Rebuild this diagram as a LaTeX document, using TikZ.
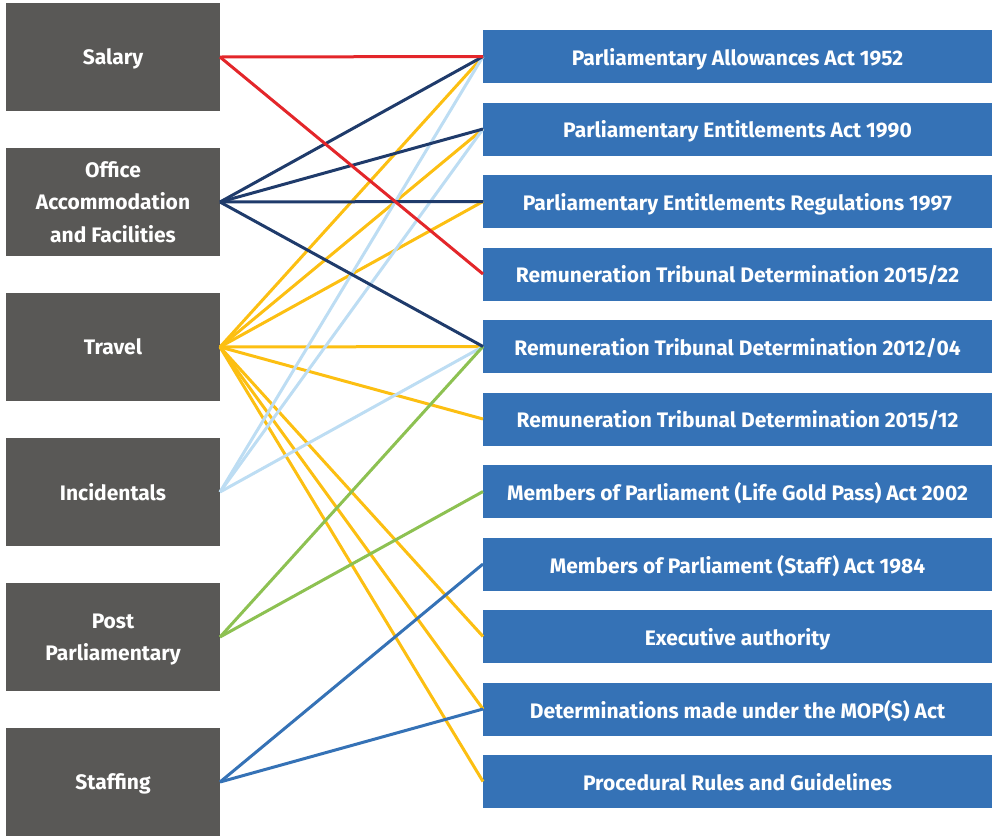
\documentclass[tikz,border=0pt]{standalone}
\usepackage{fontspec}
\setmainfont{Fira Sans}
\usetikzlibrary{positioning}

\definecolor{boxgray}{HTML}{595856}
\definecolor{boxblue}{HTML}{3572B6}
\definecolor{linered}{HTML}{E3262A}
\definecolor{linenavy}{HTML}{1F3B6B}
\definecolor{lineyellow}{HTML}{FCBF12}
\definecolor{linesky}{HTML}{BDDDF3}
\definecolor{linegreen}{HTML}{8DC152}

\begin{document}
\begin{tikzpicture}[x=1pt,y=-1pt,line width=3pt,
  topic/.style={rectangle,fill=boxgray,text=white,minimum width=214pt,minimum height=108pt,
    inner sep=0pt,outer sep=0pt,align=center,text depth=0pt,
    font=\fontsize{21}{32.5}\selectfont\bfseries},
  act/.style={rectangle,fill=boxblue,text=white,minimum width=509pt,minimum height=53pt,
    inner sep=0pt,outer sep=0pt,text depth=0pt,font=\fontsize{21}{23}\selectfont\bfseries}]

  \useasboundingbox (0,0) rectangle (992,836);

  \node[topic] (salary) at (113,57) {Salary};
  \node[topic] (office) [below=37pt of salary] {Office\\Accommodation\\and Facilities};
  \node[topic] (travel) [below=37pt of office] {Travel};
  \node[topic] (incid) [below=37pt of travel] {Incidentals};
  \node[topic] (post) [below=37pt of incid] {Post\\Parliamentary};
  \node[topic] (staff) [below=37pt of post] {Staffing};

  \node[act] (paa) at (737.5,56.5) {Parliamentary Allowances Act 1952};
  \node[act] (pea) [below=19.5pt of paa] {Parliamentary Entitlements Act 1990};
  \node[act] (per) [below=19.5pt of pea] {Parliamentary Entitlements Regulations 1997};
  \node[act] (rtd1522) [below=19.5pt of per] {Remuneration Tribunal Determination 2015/22};
  \node[act] (rtd1204) [below=19.5pt of rtd1522] {Remuneration Tribunal Determination 2012/04};
  \node[act] (rtd1512) [below=19.5pt of rtd1204] {Remuneration Tribunal Determination 2015/12};
  \node[act] (gold) [below=19.5pt of rtd1512] {Members of Parliament (Life Gold Pass) Act 2002};
  \node[act] (mops) [below=19.5pt of gold] {Members of Parliament (Staff) Act 1984};
  \node[act] (exec) [below=19.5pt of mops] {Executive authority};
  \node[act] (detm) [below=19.5pt of exec] {Determinations made under the MOP(S) Act};
  \node[act] (rules) [below=19.5pt of detm] {Procedural Rules and Guidelines};

  \path[lineyellow]
    (travel.east) edge (paa.west)
    (travel.east) edge (pea.west)
    (travel.east) edge (per.west)
    (travel.east) edge (rtd1204.west)
    (travel.east) edge (rtd1512.west)
    (travel.east) edge (exec.west)
    (travel.east) edge (detm.west)
    (travel.east) edge (rules.west);
  \path[linesky]
    (incid.east) edge (paa.west)
    (incid.east) edge (pea.west)
    (incid.east) edge (rtd1204.west);
  \path[linegreen]
    (post.east) edge (rtd1204.west)
    (post.east) edge (gold.west);
  \path[boxblue]
    (staff.east) edge (mops.west)
    (staff.east) edge (detm.west);
  \path[linenavy]
    (office.east) edge (paa.west)
    (office.east) edge (pea.west)
    (office.east) edge (per.west)
    (office.east) edge (rtd1204.west);
  \path[linered]
    (salary.east) edge (paa.west)
    (salary.east) edge (rtd1522.west);
\end{tikzpicture}
\end{document}
